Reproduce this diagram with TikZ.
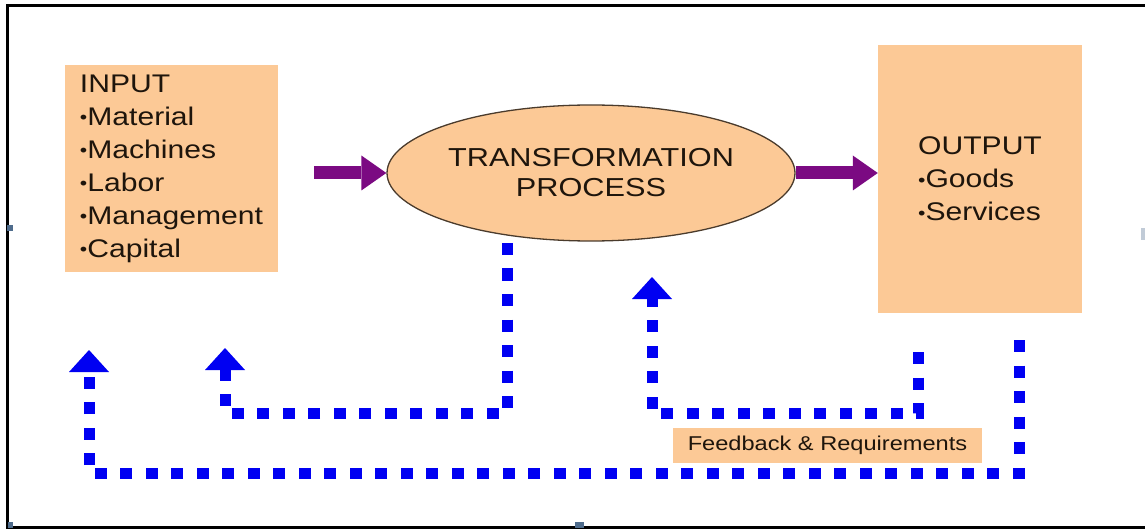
\documentclass[tikz,border=0pt]{standalone}
\usepackage{fontspec}
\setmainfont[FakeStretch=1.18]{Liberation Sans}
\usetikzlibrary{arrows.meta,shapes.geometric}
\definecolor{peach}{HTML}{FCC996}
\definecolor{purp}{HTML}{7B0A82}
\definecolor{fbblue}{HTML}{0000F2}
\definecolor{edgecol}{HTML}{4A3B2C}
\definecolor{markcol}{HTML}{4F6C8C}
\definecolor{inkcol}{HTML}{1E150C}
\newcommand{\bul}{\raisebox{0.05em}{\scalebox{0.7}{•}}}
\begin{document}
\begin{tikzpicture}[x=1pt,y=-1pt,
  box/.style={fill=peach, inner sep=0pt, text=inkcol, align=left},
  maintext/.style={font=\fontsize{25.5}{33}\selectfont},
  fbline/.style={draw=fbblue, line width=11pt, dash pattern=on 12pt off 13.5pt,
    -{Triangle[width=40pt,length=22pt,line width=0pt]}},
  bigarrow/.style={draw=purp, line width=13pt,
    -{Triangle[width=35pt,length=25pt,line width=0pt]}},
  frameline/.style={draw=black, line width=3pt},
  markbox/.style={fill=markcol}
]
\useasboundingbox (0,0) rectangle (1145,529);
% frame (open on the right)
\draw[frameline] (1145,5.5) -- (7.5,5.5) -- (7.5,527.5) -- (1145,527.5);
\fill[markbox] (7,225) rectangle (13,231);
\fill[markbox] (8,522) rectangle (13,528);
\fill[markbox] (575,522) rectangle (584,528);
\fill[markcol!35] (1141,228) rectangle (1145,240);

% boxes
\node[box, maintext, minimum width=213pt, minimum height=207pt] (inp) at (171.5,168.5)
  {INPUT\\\bul Material\\\bul Machines\\\bul Labor\\\bul Management\\\bul Capital};
\node[box, maintext, minimum width=204pt, minimum height=268pt] (out) at (980,179)
  {OUTPUT\\\bul Goods\\\bul Services};
\node[ellipse, draw=edgecol, line width=1.3pt, fill=peach, minimum width=408pt,
  minimum height=136pt, inner sep=0pt, align=center, text=inkcol,
  font=\fontsize{26}{30}\selectfont] (proc) at (591,173)
  {\raisebox{-3pt}{TRANSFORMATION}\\\raisebox{-3pt}{PROCESS}};

% purple arrows
\coordinate (a1) at (314,173);
\draw[bigarrow] (a1) -- (proc.west);
\draw[bigarrow] (proc.east) -- (proc.east -| out.west);

% feedback lines
\coordinate (s1) at (1019,340);
\coordinate (t1) at (89,350);
\coordinate (s2) at (507,243);
\coordinate (t2) at (225,348);
\coordinate (s3) at (918,352);
\coordinate (t3) at (652,277);
\draw[fbline] (s1) -- (s1 |- 0,473) -- (t1 |- 0,473) -- (t1);
\draw[fbline] (s2) -- (s2 |- 0,413) -- (t2 |- 0,413) -- (t2);
\draw[fbline] (s3) -- (s3 |- 0,413) -- (t3 |- 0,413) -- (t3);

% label
\node[box, minimum width=309pt, minimum height=35pt, align=center,
  font=\fontsize{20}{24}\selectfont] (fb) at (827.5,445.5) {Feedback \& Requirements};
\end{tikzpicture}
\end{document}
